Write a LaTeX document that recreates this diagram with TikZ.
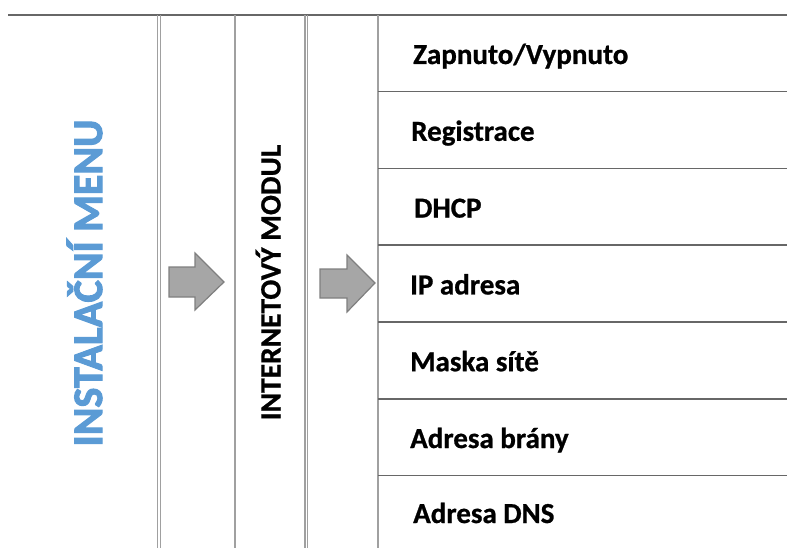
\documentclass[tikz,border=0pt]{standalone}
\usepackage{fontspec}
\setmainfont{Carlito}
\newfontface\titleface[FakeBold=2.5]{Carlito Bold}
\newfontface\itemface[FakeBold=0.8]{Carlito Bold}
\definecolor{vgray}{HTML}{A0A0A0}
\definecolor{hgray}{HTML}{676767}
\definecolor{afill}{HTML}{A6A6A6}
\definecolor{aline}{HTML}{7F7F7F}
\definecolor{menublue}{HTML}{5B9BD5}
\begin{document}
\begin{tikzpicture}[x=1pt,y=-1pt,
  vline/.style={draw=vgray, line width=1.3pt},
  hline/.style={draw=hgray, line width=1.5pt},
  item/.style={font=\fontsize{29}{31}\itemface, anchor=base west, inner sep=0pt},
  blockarrow/.style={fill=afill, draw=aline, line width=1.2pt, line join=miter},
  vtitle/.style={rotate=90, anchor=base, inner sep=0pt}]
\useasboundingbox (0,0) rectangle (787,548);
% top rule
\draw[hline] (8,14.8) -- (787,14.8);
% vertical column lines
\draw[vline] (157.5,14.8) -- (157.5,548);
\draw[vline] (160.5,14.8) -- (160.5,548);
\draw[vline] (235,14.8) -- (235,548);
\draw[vline] (305,14.8) -- (305,548);
\draw[vline] (307.8,14.8) -- (307.8,548);
\draw[vline] (378,14.8) -- (378,548);
% row lines of the right column
\foreach \yy in {91.6,168.4,245.2,322,398.8,475.6}
  \draw[hline] (378,\yy) -- (787,\yy);
% vertical titles
\node[vtitle, text=menublue, font=\fontsize{42}{44}\titleface] (menu) at (102,283) {INSTALAČNÍ MENU};
\node[vtitle, font=\fontsize{29.5}{31}\itemface] (modul) at (280.5,282.5) {INTERNETOVÝ MODUL};
% block arrows
\draw[blockarrow] (169,267) -- (195,267) -- (195,253) -- (224,282) -- (195,310) -- (195,297) -- (169,297) -- cycle;
\draw[blockarrow] (320,269) -- (347,269) -- (347,255) -- (375,283) -- (347,312) -- (347,298) -- (320,298) -- cycle;
% menu items
\node[item] (i1) at (413,64) {Zapnuto/Vypnuto};
\node[item] (i2) at (411,140.8) {Registrace};
\node[item] (i3) at (414,217.6) {DHCP};
\node[item] (i4) at (410,294.4) {IP adresa};
\node[item] (i5) at (410,371.2) {Maska sítě};
\node[item] (i6) at (410,448) {Adresa brány};
\node[item] (i7) at (413,523) {Adresa DNS};
\end{tikzpicture}
\end{document}
